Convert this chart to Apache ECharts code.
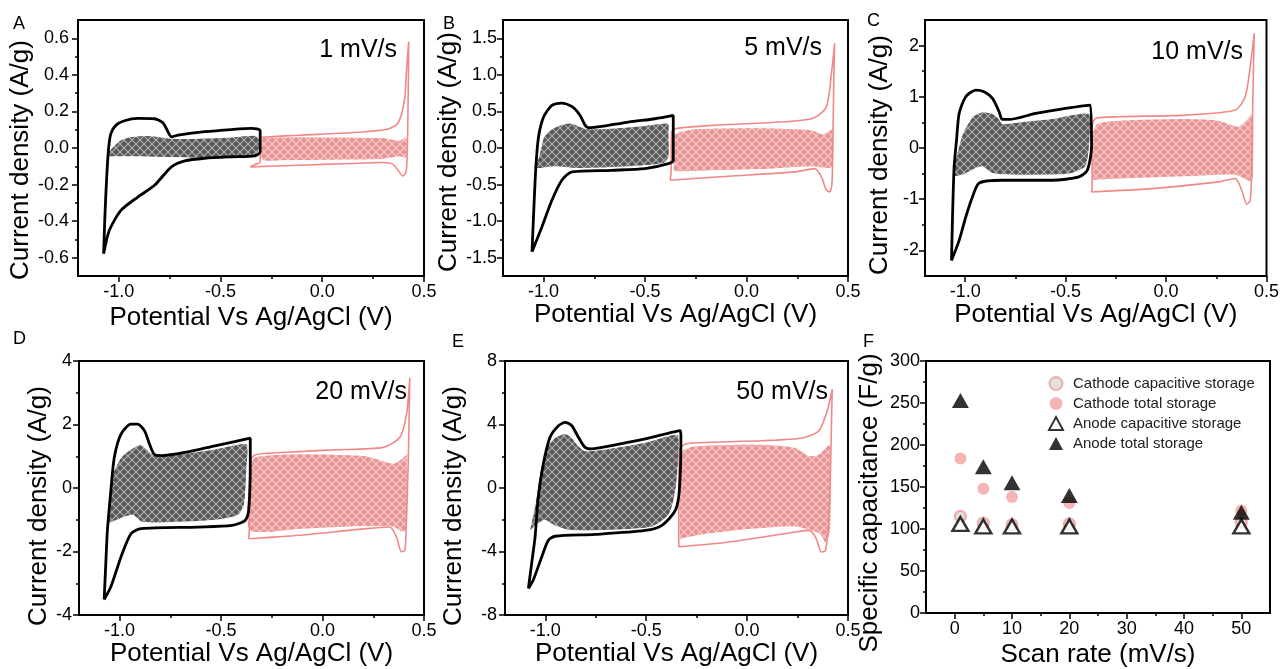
<!DOCTYPE html>
<html>
<head>
<meta charset="utf-8">
<script src="https://cdn.jsdelivr.net/npm/echarts@6/dist/echarts.min.js"></script>
<style>
  html, body { margin: 0; padding: 0; background: #fff; }
  #chart { width: 1282px; height: 669px; }
</style>
</head>
<body>
<div id="chart"></div>
<script>
// ---------- tick values ----------
const cvXLabels = [-1.0, -0.5, 0.0, 0.5];
const cvXMinor = [-0.75, -0.25, 0.25];
const yLabelsA = [-0.6, -0.4, -0.2, 0, 0.2, 0.4, 0.6];
const yMinorA = [-0.5, -0.3, -0.1, 0.1, 0.3, 0.5];
const yLabelsB = [-1.5, -1.0, -0.5, 0, 0.5, 1.0, 1.5];
const yMinorB = [-1.25, -0.75, -0.25, 0.25, 0.75, 1.25];
const yLabelsC = [-2, -1, 0, 1, 2];
const yMinorC = [-1.5, -0.5, 0.5, 1.5];
const yLabelsD = [-4, -2, 0, 2, 4];
const yMinorD = [-3, -1, 1, 3];
const yLabelsE = [-8, -4, 0, 4, 8];
const yMinorE = [-6, -2, 2, 6];
const fXLabels = [0, 10, 20, 30, 40, 50];
const fXMinor = [5, 15, 25, 35, 45];
const fYLabels = [0, 50, 100, 150, 200, 250, 300];
const fYMinor = [25, 75, 125, 175, 225, 275];

// ---------- A: 1 mV/s ----------
const anodeLoopA = [[-1.074,-0.578],[-1.068,-0.378],[-1.059,-0.159],[-1.049,0.006],[-1.038,0.08],[-1.013,0.125],[-0.972,0.149],[-0.906,0.162],[-0.824,0.16],[-0.783,0.138],[-0.758,0.089],[-0.741,0.061],[-0.708,0.07],[-0.577,0.089],[-0.445,0.101],[-0.346,0.107],[-0.305,0.094],[-0.305,-0.02],[-0.33,-0.043],[-0.445,-0.048],[-0.577,-0.056],[-0.675,-0.07],[-0.741,-0.103],[-0.824,-0.204],[-0.906,-0.268],[-0.988,-0.34],[-1.046,-0.45]];
const anodeCapA = [[-1.058,-0.034],[-1.03,0.006],[-0.988,0.047],[-0.923,0.065],[-0.84,0.068],[-0.741,0.054],[-0.61,0.054],[-0.445,0.061],[-0.33,0.07],[-0.31,0.052],[-0.31,-0.012],[-0.33,-0.045],[-0.445,-0.056],[-0.61,-0.056],[-0.774,-0.052],[-0.939,-0.048],[-1.054,-0.048]];
const cathodeLoopA = [[-0.354,-0.103],[-0.115,-0.094],[0.132,-0.085],[0.297,-0.079],[0.346,-0.088],[0.379,-0.131],[0.395,-0.153],[0.412,-0.131],[0.418,-0.012],[0.422,0.262],[0.425,0.582],[0.415,0.445],[0.404,0.262],[0.371,0.134],[0.313,0.101],[0.132,0.083],[-0.115,0.07],[-0.297,0.058],[-0.305,0.043],[-0.305,-0.076],[-0.33,-0.09]];
const cathodeCapA = [[-0.297,0.052],[-0.198,0.061],[0.049,0.061],[0.297,0.058],[0.379,0.043],[0.415,0.061],[0.415,-0.058],[0.379,-0.048],[0.297,-0.063],[0.049,-0.067],[-0.198,-0.07],[-0.297,-0.067]];

// ---------- B: 5 mV/s ----------
const anodeLoopB = [[-1.057,-1.418],[-1.049,-0.895],[-1.038,-0.259],[-1.025,0.15],[-1.0,0.423],[-0.959,0.582],[-0.91,0.614],[-0.861,0.568],[-0.82,0.445],[-0.795,0.309],[-0.779,0.277],[-0.713,0.295],[-0.582,0.355],[-0.451,0.4],[-0.361,0.445],[-0.361,-0.168],[-0.385,-0.214],[-0.5,-0.282],[-0.664,-0.305],[-0.861,-0.327],[-0.91,-0.441],[-0.959,-0.714],[-1.008,-1.077]];
const anodeCapB = [[-1.049,-0.282],[-1.025,-0.123],[-1.0,0.15],[-0.959,0.264],[-0.91,0.323],[-0.861,0.341],[-0.811,0.286],[-0.779,0.264],[-0.664,0.273],[-0.5,0.309],[-0.385,0.341],[-0.382,0.195],[-0.382,-0.123],[-0.41,-0.214],[-0.582,-0.259],[-0.828,-0.282],[-0.943,-0.259],[-1.025,-0.282]];
const cathodeLoopB = [[-0.377,-0.441],[-0.09,-0.386],[0.238,-0.327],[0.336,-0.282],[0.369,-0.395],[0.393,-0.577],[0.41,-0.6],[0.421,-0.486],[0.426,0.195],[0.431,1.105],[0.434,1.423],[0.418,1.014],[0.393,0.559],[0.32,0.4],[0.074,0.341],[-0.172,0.309],[-0.352,0.264],[-0.369,0.218],[-0.372,-0.35]];
const cathodeCapB = [[-0.361,-0.305],[-0.361,0.014],[-0.352,0.195],[-0.254,0.264],[0.074,0.277],[0.32,0.25],[0.377,0.195],[0.426,0.264],[0.426,-0.259],[0.393,-0.282],[0.32,-0.259],[0.074,-0.295],[-0.172,-0.314],[-0.352,-0.327]];

// ---------- C: 10 mV/s ----------
const anodeLoopC = [[-1.068,-2.196],[-1.063,-1.347],[-1.055,-0.369],[-1.043,0.153],[-1.03,0.675],[-0.997,1.002],[-0.947,1.132],[-0.906,1.1],[-0.864,0.969],[-0.831,0.708],[-0.815,0.558],[-0.781,0.558],[-0.649,0.675],[-0.5,0.773],[-0.376,0.838],[-0.371,0.023],[-0.392,-0.434],[-0.434,-0.564],[-0.566,-0.63],[-0.815,-0.63],[-0.93,-0.682],[-0.964,-0.956],[-0.997,-1.347],[-1.03,-1.804]];
const anodeCapC = [[-1.063,-0.499],[-1.046,-0.173],[-1.013,0.284],[-0.964,0.61],[-0.914,0.708],[-0.864,0.675],[-0.831,0.578],[-0.815,0.48],[-0.732,0.512],[-0.566,0.578],[-0.384,0.675],[-0.381,0.023],[-0.401,-0.369],[-0.483,-0.512],[-0.732,-0.532],[-0.864,-0.499],[-0.914,-0.369],[-0.947,-0.401],[-1.013,-0.532],[-1.063,-0.564]];
const cathodeLoopC = [[-0.371,-0.858],[-0.07,-0.793],[0.262,-0.662],[0.344,-0.597],[0.377,-0.826],[0.402,-1.1],[0.419,-1.022],[0.427,-0.369],[0.432,0.936],[0.439,2.241],[0.419,1.589],[0.394,1.002],[0.344,0.741],[0.096,0.643],[-0.235,0.61],[-0.351,0.578],[-0.368,0.414],[-0.368,-0.76]];
const cathodeCapC = [[-0.368,-0.63],[-0.368,0.284],[-0.343,0.48],[-0.235,0.545],[0.096,0.578],[0.262,0.545],[0.361,0.428],[0.427,0.675],[0.435,0.741],[0.435,-0.564],[0.419,-0.662],[0.344,-0.532],[0.096,-0.564],[-0.152,-0.597],[-0.351,-0.63]];

// ---------- D: 20 mV/s ----------
const anodeLoopD = [[-1.076,-3.51],[-1.068,-2.38],[-1.06,-1.33],[-1.043,-0.08],[-1.026,0.97],[-0.993,1.7],[-0.944,2.01],[-0.911,2.01],[-0.877,1.8],[-0.853,1.39],[-0.828,1.05],[-0.795,1.02],[-0.679,1.12],[-0.53,1.33],[-0.356,1.57],[-0.356,0.76],[-0.364,-0.71],[-0.381,-1.02],[-0.447,-1.18],[-0.613,-1.23],[-0.894,-1.28],[-0.944,-1.44],[-0.993,-2.17],[-1.043,-3.11]];
const anodeCapD = [[-1.06,-1.12],[-1.051,-0.29],[-1.035,0.44],[-0.993,0.97],[-0.944,1.23],[-0.894,1.37],[-0.861,1.2],[-0.828,1.02],[-0.695,1.09],[-0.53,1.23],[-0.373,1.39],[-0.373,0.55],[-0.384,-0.5],[-0.414,-0.86],[-0.53,-1.02],[-0.778,-1.1],[-0.894,-1.07],[-0.935,-0.86],[-0.977,-0.92],[-1.043,-1.1]];
const cathodeLoopD = [[-0.364,-1.6],[-0.116,-1.49],[0.215,-1.28],[0.331,-1.23],[0.364,-1.54],[0.389,-2.01],[0.406,-1.96],[0.414,-0.92],[0.422,0.76],[0.427,2.33],[0.43,3.48],[0.414,2.33],[0.381,1.6],[0.298,1.28],[0.05,1.2],[-0.199,1.12],[-0.331,1.05],[-0.356,0.86],[-0.361,-1.34]];
const cathodeCapD = [[-0.361,-1.34],[-0.361,0.55],[-0.339,0.97],[-0.199,1.07],[0.05,1.07],[0.215,1.02],[0.348,0.78],[0.406,1.02],[0.417,1.18],[0.417,-1.34],[0.389,-1.39],[0.348,-1.23],[0.132,-1.23],[-0.116,-1.31]];

// ---------- E: 50 mV/s ----------
const anodeLoopE = [[-1.084,-6.33],[-1.068,-4.76],[-1.051,-3.09],[-1.035,-0.58],[-1.01,1.52],[-0.977,3.19],[-0.935,3.92],[-0.902,4.13],[-0.869,3.92],[-0.836,3.19],[-0.803,2.56],[-0.77,2.46],[-0.671,2.67],[-0.505,3.09],[-0.331,3.61],[-0.328,3.19],[-0.336,-0.16],[-0.356,-1.41],[-0.422,-2.35],[-0.505,-2.67],[-0.753,-2.92],[-0.952,-3.04],[-0.985,-3.29],[-1.018,-4.34],[-1.06,-5.8]];
const anodeCapE = [[-1.076,-2.67],[-1.068,-2.04],[-1.051,-0.99],[-1.026,1.1],[-0.993,2.56],[-0.952,3.19],[-0.902,3.44],[-0.869,3.19],[-0.836,2.67],[-0.803,2.35],[-0.671,2.52],[-0.505,2.88],[-0.343,3.36],[-0.343,1.1],[-0.359,-0.58],[-0.389,-1.73],[-0.472,-2.46],[-0.671,-2.67],[-0.886,-2.67],[-0.96,-2.35],[-1.002,-2.04],[-1.035,-2.25]];
const cathodeLoopE = [[-0.339,-3.71],[-0.091,-3.4],[0.24,-2.77],[0.306,-2.67],[0.339,-3.09],[0.369,-4.03],[0.389,-3.92],[0.406,-1.83],[0.414,1.52],[0.419,4.65],[0.422,6.22],[0.397,4.86],[0.356,3.61],[0.273,3.15],[0.074,2.98],[-0.174,2.88],[-0.306,2.77],[-0.336,2.35],[-0.339,-3.09]];
const cathodeCapE = [[-0.336,-3.3],[-0.336,1.52],[-0.323,2.35],[-0.257,2.67],[0.074,2.77],[0.24,2.56],[0.306,2.04],[0.356,2.15],[0.406,2.77],[0.414,2.56],[0.414,-2.67],[0.389,-3.5],[0.356,-2.88],[0.24,-2.46],[0.074,-2.56],[-0.174,-2.88],[-0.323,-3.2]];

// ---------- F: specific capacitance vs scan rate ----------
const scanRates = [1, 5, 10, 20, 50];
const cathodeCapacitive = [115, 107, 105, 106, 108];
const cathodeTotal = [184, 148, 138, 131, 122];
const anodeCapacitive = [106, 103, 103, 103, 103];
const anodeTotal = [253, 174, 155, 140, 120];

// ---------- styling ----------
const FONT = '"Liberation Sans", Arial, Helvetica, sans-serif';
const RED = '#f08888';
const PINK = '#f4a3a3';
const TITLE_SIZE = 26;

// Diagonal cross-hatch tiles used for the capacitive-storage regions
function hatchTile(bg, line) {
  const c = document.createElement('canvas');
  c.width = 8; c.height = 8;
  const g = c.getContext('2d');
  g.fillStyle = bg;
  g.fillRect(0, 0, 8, 8);
  g.strokeStyle = line;
  g.lineWidth = 1.1;
  g.beginPath();
  g.moveTo(0, 0); g.lineTo(8, 8);
  g.moveTo(8, 0); g.lineTo(0, 8);
  g.stroke();
  return { image: c, repeat: 'repeat' };
}
const greyHatch = hatchTile('#585858', '#b0b0b0');
const pinkHatch = hatchTile('#ea9393', '#f6cfcf');

const grids = [], xAxes = [], yAxes = [], series = [];

function closed(loop) { return loop.concat([loop[0]]); }

function fillSeries(idx, points, pattern) {
  return {
    type: 'custom', xAxisIndex: idx, yAxisIndex: idx, silent: true, z: 1,
    data: [points[0]],
    renderItem: function (params, api) {
      return {
        type: 'polygon',
        shape: { points: points.map(p => api.coord(p)), smooth: 0.2 },
        style: { fill: pattern, stroke: '#ffffff', lineWidth: 1.2 }
      };
    }
  };
}

function addPanel(p) {
  const gi = grids.length;
  grids.push({ left: p.box[0], top: p.box[1], width: p.box[2], height: p.box[3],
    show: true, borderColor: '#000', borderWidth: 2, backgroundColor: 'transparent' });
  const axisIdx = xAxes.length;
  const common = { type: 'value', gridIndex: gi, splitLine: { show: false } };
  // main x axis: labels and major ticks
  xAxes.push(Object.assign({}, common, {
    position: 'bottom', min: p.xr[0], max: p.xr[1],
    axisLine: { show: true, onZero: false, lineStyle: { color: '#000', width: 2 } },
    axisTick: { show: true, customValues: p.xl, length: 6, lineStyle: { color: '#000', width: 1.5 } },
    axisLabel: { customValues: p.xl, formatter: p.xf, fontSize: 18, color: '#000', fontFamily: FONT, margin: 7 },
    name: p.xName, nameLocation: 'middle', nameGap: p.xGap,
    nameTextStyle: { fontSize: TITLE_SIZE, color: '#000', fontFamily: FONT }
  }));
  // minor x ticks on the same edge
  xAxes.push(Object.assign({}, common, {
    position: 'bottom', offset: 0, min: p.xr[0], max: p.xr[1],
    axisLine: { show: false, onZero: false },
    axisTick: { show: true, customValues: p.xm, length: 3, lineStyle: { color: '#000', width: 1.5 } },
    axisLabel: { show: false }
  }));
  yAxes.push(Object.assign({}, common, {
    position: 'left', min: p.yr[0], max: p.yr[1],
    axisLine: { show: true, onZero: false, lineStyle: { color: '#000', width: 2 } },
    axisTick: { show: true, customValues: p.yl, length: 6, lineStyle: { color: '#000', width: 1.5 } },
    axisLabel: { customValues: p.yl, formatter: p.yf, fontSize: 18, color: '#000', fontFamily: FONT, margin: p.yMargin },
    name: p.yName, nameLocation: 'middle', nameGap: p.yGap, nameRotate: 90,
    nameTextStyle: { fontSize: TITLE_SIZE, color: '#000', fontFamily: FONT, padding: [0, p.yShift * 2, 0, 0] }
  }));
  yAxes.push(Object.assign({}, common, {
    position: 'left', offset: 0, min: p.yr[0], max: p.yr[1],
    axisLine: { show: false, onZero: false },
    axisTick: { show: true, customValues: p.ym, length: 3, lineStyle: { color: '#000', width: 1.5 } },
    axisLabel: { show: false }
  }));
  return axisIdx;
}

function addCV(p, anodeLoop, anodeCap, cathodeLoop, cathodeCap) {
  const idx = addPanel(p);
  series.push(fillSeries(idx, cathodeCap, pinkHatch));
  series.push(fillSeries(idx, anodeCap, greyHatch));
  series.push({
    type: 'line', xAxisIndex: idx, yAxisIndex: idx, data: closed(cathodeLoop),
    showSymbol: false, smooth: 0.25, silent: true, z: 3,
    lineStyle: { color: RED, width: 1.6 }
  });
  series.push({
    type: 'line', xAxisIndex: idx, yAxisIndex: idx, data: closed(anodeLoop),
    showSymbol: false, smooth: 0.25, silent: true, z: 4,
    lineStyle: { color: '#000', width: 2.8 }
  });
}

const fmt1 = v => v.toFixed(1);
const fmt0 = v => String(v);
const xTitle = 'Potential Vs Ag/AgCl (V)';
const yTitle = 'Current density (A/g)';

addCV({ box: [78, 20, 346, 256], xr: [-1.2, 0.5], yr: [-0.7, 0.7], xl: cvXLabels, xm: cvXMinor,
  yl: yLabelsA, ym: yMinorA, xf: fmt1, yf: fmt1, xName: xTitle, yName: yTitle,
  xGap: 29, yGap: 42, yMargin: 9, yShift: 12 }, anodeLoopA, anodeCapA, cathodeLoopA, cathodeCapA);
addCV({ box: [503, 20, 345, 256], xr: [-1.2, 0.5], yr: [-1.75, 1.75], xl: cvXLabels, xm: cvXMinor,
  yl: yLabelsB, ym: yMinorB, xf: fmt1, yf: fmt1, xName: xTitle, yName: yTitle,
  xGap: 24, yGap: 37, yMargin: 6, yShift: 4 }, anodeLoopB, anodeCapB, cathodeLoopB, cathodeCapB);
addCV({ box: [925, 20, 345, 256], xr: [-1.2, 0.5], yr: [-2.5, 2.5], xl: cvXLabels, xm: cvXMinor,
  yl: yLabelsC, ym: yMinorC, xf: fmt1, yf: fmt0, xName: xTitle, yName: yTitle,
  xGap: 24, yGap: 32, yMargin: 6, yShift: 7 }, anodeLoopC, anodeCapC, cathodeLoopC, cathodeCapC);
addCV({ box: [79, 361, 345, 254], xr: [-1.2, 0.5], yr: [-4, 4], xl: cvXLabels, xm: cvXMinor,
  yl: yLabelsD, ym: yMinorD, xf: fmt1, yf: fmt0, xName: xTitle, yName: yTitle,
  xGap: 25, yGap: 25, yMargin: 7, yShift: 18 }, anodeLoopD, anodeCapD, cathodeLoopD, cathodeCapD);
addCV({ box: [505, 361, 343, 254], xr: [-1.2, 0.5], yr: [-8, 8], xl: cvXLabels, xm: cvXMinor,
  yl: yLabelsE, ym: yMinorE, xf: fmt1, yf: fmt0, xName: xTitle, yName: yTitle,
  xGap: 24, yGap: 38, yMargin: 8, yShift: 18 }, anodeLoopE, anodeCapE, cathodeLoopE, cathodeCapE);

// Panel F: scatter of specific capacitance
const fIdx = addPanel({ box: [926, 361, 344, 254], xr: [-5, 55], yr: [0, 300], xl: fXLabels, xm: fXMinor,
  yl: fYLabels, ym: fYMinor, xf: fmt0, yf: fmt0, xName: 'Scan rate (mV/s)', yName: 'Specific capacitance (F/g)',
  xGap: 29, yGap: 43, yMargin: 6, yShift: 16 });
const pairs = vals => scanRates.map((r, i) => [r, vals[i]]);
series.push(
  { type: 'scatter', name: 'Cathode capacitive storage', xAxisIndex: fIdx, yAxisIndex: fIdx,
    data: pairs(cathodeCapacitive), symbol: 'circle', symbolSize: 11, z: 5,
    itemStyle: { color: '#dadada', borderColor: '#f29a9a', borderWidth: 2.2 } },
  { type: 'scatter', name: 'Cathode total storage', xAxisIndex: fIdx, yAxisIndex: fIdx,
    data: pairs(cathodeTotal), symbol: 'circle', symbolSize: 12, z: 5,
    itemStyle: { color: PINK } },
  { type: 'scatter', name: 'Anode capacitive storage', xAxisIndex: fIdx, yAxisIndex: fIdx,
    data: pairs(anodeCapacitive), symbol: 'triangle', symbolSize: [16, 14], z: 6,
    itemStyle: { color: '#ffffff', borderColor: '#000', borderWidth: 2.4 } },
  { type: 'scatter', name: 'Anode total storage', xAxisIndex: fIdx, yAxisIndex: fIdx,
    data: pairs(anodeTotal), symbol: 'triangle', symbolSize: [17, 15], z: 6,
    itemStyle: { color: '#000' } }
);

const panelText = (t, x, y) => ({ type: 'text', x: x, y: y, silent: true,
  style: { text: t, font: '18px ' + FONT, fill: '#000', textAlign: 'left', textVerticalAlign: 'middle' } });
const rateText = (t, x, y) => ({ type: 'text', x: x, y: y, silent: true, z: 10,
  style: { text: t, font: '25px ' + FONT, fill: '#000', textAlign: 'right', textVerticalAlign: 'middle' } });

const chart = echarts.init(document.getElementById('chart'), null, { renderer: 'canvas' });
chart.setOption({
  animation: false,
  backgroundColor: '#ffffff',
  grid: grids,
  xAxis: xAxes,
  yAxis: yAxes,
  series: series,
  legend: {
    data: ['Cathode capacitive storage', 'Cathode total storage', 'Anode capacitive storage', 'Anode total storage'],
    orient: 'vertical', left: 1043, top: 371, itemWidth: 14, itemHeight: 13, itemGap: 5,
    selectedMode: false,
    textStyle: { fontSize: 15, color: '#222', fontFamily: FONT, padding: [0, 0, 0, 5] }
  },
  graphic: [
    panelText('A', 13, 24), panelText('B', 443, 24), panelText('C', 867, 21),
    panelText('D', 13, 339), panelText('E', 452, 342), panelText('F', 863, 342),
    rateText('1 mV/s', 397, 50), rateText('5 mV/s', 822, 48), rateText('10 mV/s', 1243, 52),
    rateText('20 mV/s', 407, 392), rateText('50 mV/s', 828, 392)
  ]
});
</script>
</body>
</html>
